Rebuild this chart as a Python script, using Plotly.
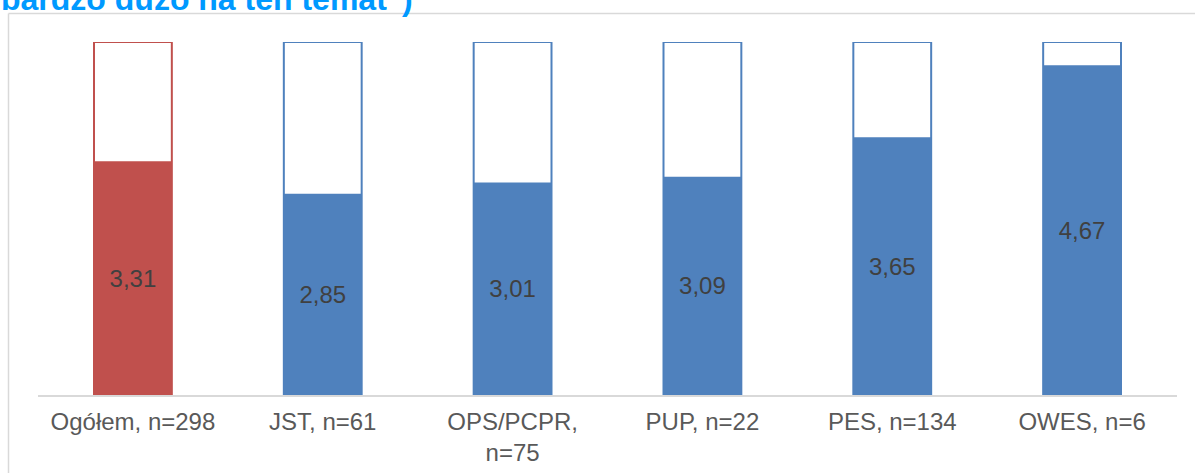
import plotly.graph_objects as go

# Mean ratings per respondent group (scale 1-5)
categories = ["Ogółem, n=298", "JST, n=61", "OPS/PCPR,<br>n=75", "PUP, n=22", "PES, n=134", "OWES, n=6"]
values = [3.31, 2.85, 3.01, 3.09, 3.65, 4.67]
scale_max = [5, 5, 5, 5, 5, 5]

RED = "#C0504D"
BLUE = "#4F81BD"
colors = [RED] + [BLUE] * (len(categories) - 1)
labels = [f"{v:.2f}".replace(".", ",") for v in values]

W, H = 1195, 473
ML, MR, MT, MB = 38, 18, 42, 78
plot_w = W - ML - MR
plot_h = H - MT - MB


def px_x(px):
    return (px - ML) / plot_w


def px_y(py):
    return (H - MB - py) / plot_h


fig = go.Figure()

# Outlined frame showing the full scale (max = 5)
fig.add_trace(go.Bar(
    x=categories, y=scale_max,
    marker=dict(color="white", line=dict(color=colors, width=2)),
    hoverinfo="skip", showlegend=False,
))

# Filled part showing the mean value
fig.add_trace(go.Bar(
    x=categories, y=values,
    marker=dict(color=colors, line=dict(width=0)),
    text=labels, textposition="inside", insidetextanchor="middle",
    textfont=dict(family="Liberation Sans, Arial", size=24, color="#404040"),
    showlegend=False,
))

# Chart frame (left and top edges)
fig.add_shape(type="line", xref="paper", yref="paper",
              x0=px_x(8.5), x1=px_x(1200), y0=px_y(13.5), y1=px_y(13.5),
              line=dict(color="#D9D9D9", width=1.5))
fig.add_shape(type="line", xref="paper", yref="paper",
              x0=px_x(8.5), x1=px_x(8.5), y0=px_y(13.5), y1=px_y(480),
              line=dict(color="#D9D9D9", width=1.5))

# Title line
fig.add_annotation(
    text="<b>bardzo dużo na ten temat\")</b>",
    xref="paper", yref="paper", x=px_x(-1), y=px_y(19.5),
    xanchor="left", yanchor="bottom", showarrow=False,
    font=dict(family="Liberation Sans, Arial", size=32, color="#0099FF"),
)

fig.update_layout(
    width=W, height=H,
    margin=dict(l=ML, r=MR, t=MT, b=MB, autoexpand=False),
    paper_bgcolor="white", plot_bgcolor="white",
    barmode="overlay", bargap=0.59,
    font=dict(family="Liberation Sans, Arial", size=24, color="#595959"),
    xaxis=dict(showline=True, linecolor="#D9D9D9", linewidth=2, automargin=False,
               ticks="", showgrid=False, ticklabelstandoff=4,
               tickfont=dict(size=24, color="#595959")),
    yaxis=dict(range=[0, 5], visible=False, showgrid=False, zeroline=False,
               automargin=False),
)

fig.write_html("out.html")
